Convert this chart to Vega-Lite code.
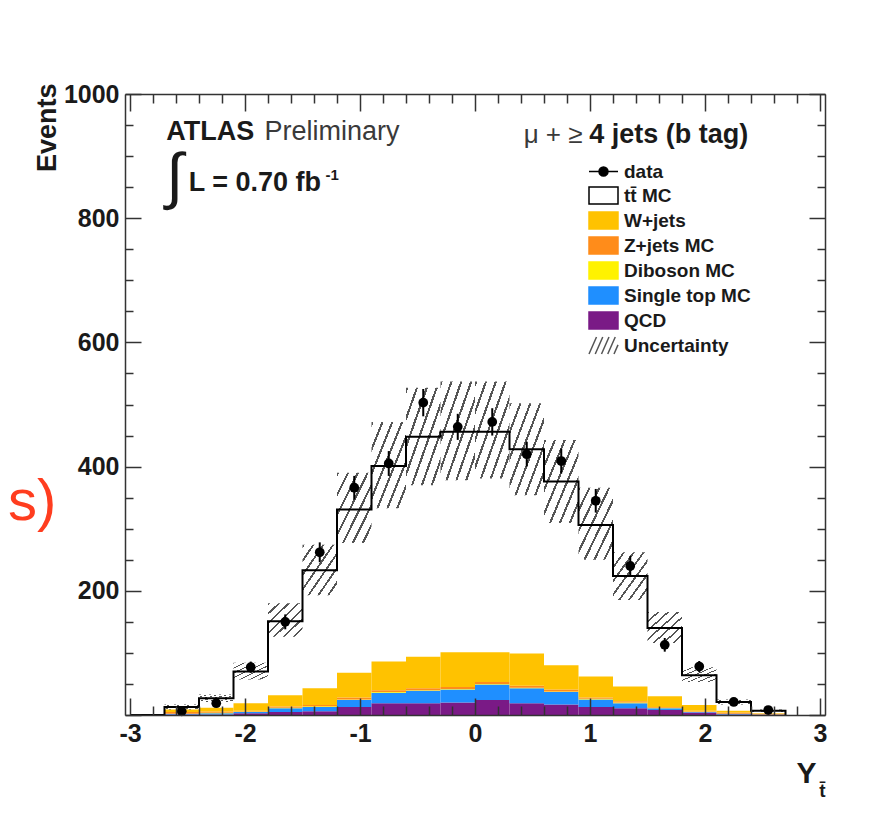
{
  "$schema": "https://vega.github.io/schema/vega-lite/v6.json",
  "width": 700,
  "height": 621,
  "autosize": {"type": "none"},
  "padding": {"left": 125, "top": 94, "right": 50, "bottom": 98},
  "background": "white",
  "config": {"view": {"stroke": null}, "axis": {"grid": false}, "font": "Liberation Sans"},
  "datasets": {
    "mc": [
      {"lo": -3, "hi": -2.7, "c": -2.85, "total": 0, "ulo": 0, "uhi": 0, "data": null, "dlo": null, "dhi": null},
      {"lo": -2.7, "hi": -2.4, "c": -2.55, "total": 13, "ulo": 9, "uhi": 17, "data": 6, "dlo": 3.5, "dhi": 8.5},
      {"lo": -2.4, "hi": -2.1, "c": -2.25, "total": 27, "ulo": 21, "uhi": 33, "data": 19, "dlo": 14.6, "dhi": 23.4},
      {"lo": -2.1, "hi": -1.8, "c": -1.95, "total": 70, "ulo": 57, "uhi": 84, "data": 77, "dlo": 68, "dhi": 86},
      {"lo": -1.8, "hi": -1.5, "c": -1.65, "total": 151, "ulo": 126, "uhi": 180, "data": 150, "dlo": 138, "dhi": 162},
      {"lo": -1.5, "hi": -1.2, "c": -1.35, "total": 233, "ulo": 193, "uhi": 274, "data": 262, "dlo": 246, "dhi": 278},
      {"lo": -1.2, "hi": -0.9, "c": -1.05, "total": 331, "ulo": 277, "uhi": 390, "data": 366, "dlo": 347, "dhi": 385},
      {"lo": -0.9, "hi": -0.6, "c": -0.75, "total": 401, "ulo": 333, "uhi": 472, "data": 405, "dlo": 385, "dhi": 425},
      {"lo": -0.6, "hi": -0.3, "c": -0.45, "total": 448, "ulo": 370, "uhi": 527, "data": 503, "dlo": 481, "dhi": 525},
      {"lo": -0.3, "hi": 0, "c": -0.15, "total": 456, "ulo": 378, "uhi": 537, "data": 464, "dlo": 443, "dhi": 485},
      {"lo": 0, "hi": 0.3, "c": 0.15, "total": 456, "ulo": 381, "uhi": 537, "data": 472, "dlo": 450, "dhi": 494},
      {"lo": 0.3, "hi": 0.6, "c": 0.45, "total": 428, "ulo": 354, "uhi": 502, "data": 420, "dlo": 400, "dhi": 440},
      {"lo": 0.6, "hi": 0.9, "c": 0.75, "total": 376, "ulo": 309, "uhi": 443, "data": 409, "dlo": 389, "dhi": 429},
      {"lo": 0.9, "hi": 1.2, "c": 1.05, "total": 306, "ulo": 250, "uhi": 366, "data": 345, "dlo": 326, "dhi": 364},
      {"lo": 1.2, "hi": 1.5, "c": 1.35, "total": 224, "ulo": 185, "uhi": 262, "data": 240, "dlo": 224, "dhi": 256},
      {"lo": 1.5, "hi": 1.8, "c": 1.65, "total": 140, "ulo": 116, "uhi": 166, "data": 113, "dlo": 102, "dhi": 124},
      {"lo": 1.8, "hi": 2.1, "c": 1.95, "total": 64, "ulo": 53, "uhi": 77, "data": 78, "dlo": 69, "dhi": 87},
      {"lo": 2.1, "hi": 2.4, "c": 2.25, "total": 21, "ulo": 17, "uhi": 25, "data": 21, "dlo": 16.4, "dhi": 25.6},
      {"lo": 2.4, "hi": 2.7, "c": 2.55, "total": 7, "ulo": 5, "uhi": 9, "data": 8, "dlo": 5.2, "dhi": 10.8},
      {"lo": 2.7, "hi": 3, "c": 2.85, "total": 0, "ulo": 0, "uhi": 0, "data": null, "dlo": null, "dhi": null}
    ],
    "bkg": [
      {"lo": -2.7, "hi": -2.4, "process": "QCD", "k": 1, "n": 1},
      {"lo": -2.7, "hi": -2.4, "process": "Single top MC", "k": 2, "n": 1},
      {"lo": -2.7, "hi": -2.4, "process": "Diboson MC", "k": 3, "n": 0},
      {"lo": -2.7, "hi": -2.4, "process": "Z+jets MC", "k": 4, "n": 3},
      {"lo": -2.7, "hi": -2.4, "process": "W+jets", "k": 5, "n": 4},
      {"lo": -2.4, "hi": -2.1, "process": "QCD", "k": 1, "n": 1},
      {"lo": -2.4, "hi": -2.1, "process": "Single top MC", "k": 2, "n": 2},
      {"lo": -2.4, "hi": -2.1, "process": "Diboson MC", "k": 3, "n": 0.5},
      {"lo": -2.4, "hi": -2.1, "process": "Z+jets MC", "k": 4, "n": 2},
      {"lo": -2.4, "hi": -2.1, "process": "W+jets", "k": 5, "n": 6},
      {"lo": -2.1, "hi": -1.8, "process": "QCD", "k": 1, "n": 3},
      {"lo": -2.1, "hi": -1.8, "process": "Single top MC", "k": 2, "n": 2},
      {"lo": -2.1, "hi": -1.8, "process": "Diboson MC", "k": 3, "n": 0.5},
      {"lo": -2.1, "hi": -1.8, "process": "Z+jets MC", "k": 4, "n": 1.5},
      {"lo": -2.1, "hi": -1.8, "process": "W+jets", "k": 5, "n": 12},
      {"lo": -1.8, "hi": -1.5, "process": "QCD", "k": 1, "n": 5},
      {"lo": -1.8, "hi": -1.5, "process": "Single top MC", "k": 2, "n": 6},
      {"lo": -1.8, "hi": -1.5, "process": "Diboson MC", "k": 3, "n": 0.5},
      {"lo": -1.8, "hi": -1.5, "process": "Z+jets MC", "k": 4, "n": 2},
      {"lo": -1.8, "hi": -1.5, "process": "W+jets", "k": 5, "n": 18.5},
      {"lo": -1.5, "hi": -1.2, "process": "QCD", "k": 1, "n": 6},
      {"lo": -1.5, "hi": -1.2, "process": "Single top MC", "k": 2, "n": 7},
      {"lo": -1.5, "hi": -1.2, "process": "Diboson MC", "k": 3, "n": 1},
      {"lo": -1.5, "hi": -1.2, "process": "Z+jets MC", "k": 4, "n": 2},
      {"lo": -1.5, "hi": -1.2, "process": "W+jets", "k": 5, "n": 27},
      {"lo": -1.2, "hi": -0.9, "process": "QCD", "k": 1, "n": 13},
      {"lo": -1.2, "hi": -0.9, "process": "Single top MC", "k": 2, "n": 11},
      {"lo": -1.2, "hi": -0.9, "process": "Diboson MC", "k": 3, "n": 1},
      {"lo": -1.2, "hi": -0.9, "process": "Z+jets MC", "k": 4, "n": 3},
      {"lo": -1.2, "hi": -0.9, "process": "W+jets", "k": 5, "n": 40},
      {"lo": -0.9, "hi": -0.6, "process": "QCD", "k": 1, "n": 19},
      {"lo": -0.9, "hi": -0.6, "process": "Single top MC", "k": 2, "n": 17},
      {"lo": -0.9, "hi": -0.6, "process": "Diboson MC", "k": 3, "n": 1},
      {"lo": -0.9, "hi": -0.6, "process": "Z+jets MC", "k": 4, "n": 3},
      {"lo": -0.9, "hi": -0.6, "process": "W+jets", "k": 5, "n": 46},
      {"lo": -0.6, "hi": -0.3, "process": "QCD", "k": 1, "n": 19},
      {"lo": -0.6, "hi": -0.3, "process": "Single top MC", "k": 2, "n": 20},
      {"lo": -0.6, "hi": -0.3, "process": "Diboson MC", "k": 3, "n": 1},
      {"lo": -0.6, "hi": -0.3, "process": "Z+jets MC", "k": 4, "n": 3},
      {"lo": -0.6, "hi": -0.3, "process": "W+jets", "k": 5, "n": 51},
      {"lo": -0.3, "hi": 0, "process": "QCD", "k": 1, "n": 20},
      {"lo": -0.3, "hi": 0, "process": "Single top MC", "k": 2, "n": 21},
      {"lo": -0.3, "hi": 0, "process": "Diboson MC", "k": 3, "n": 1},
      {"lo": -0.3, "hi": 0, "process": "Z+jets MC", "k": 4, "n": 3},
      {"lo": -0.3, "hi": 0, "process": "W+jets", "k": 5, "n": 56},
      {"lo": 0, "hi": 0.3, "process": "QCD", "k": 1, "n": 24},
      {"lo": 0, "hi": 0.3, "process": "Single top MC", "k": 2, "n": 25},
      {"lo": 0, "hi": 0.3, "process": "Diboson MC", "k": 3, "n": 1},
      {"lo": 0, "hi": 0.3, "process": "Z+jets MC", "k": 4, "n": 3},
      {"lo": 0, "hi": 0.3, "process": "W+jets", "k": 5, "n": 48},
      {"lo": 0.3, "hi": 0.6, "process": "QCD", "k": 1, "n": 19},
      {"lo": 0.3, "hi": 0.6, "process": "Single top MC", "k": 2, "n": 24},
      {"lo": 0.3, "hi": 0.6, "process": "Diboson MC", "k": 3, "n": 1},
      {"lo": 0.3, "hi": 0.6, "process": "Z+jets MC", "k": 4, "n": 3},
      {"lo": 0.3, "hi": 0.6, "process": "W+jets", "k": 5, "n": 52},
      {"lo": 0.6, "hi": 0.9, "process": "QCD", "k": 1, "n": 17},
      {"lo": 0.6, "hi": 0.9, "process": "Single top MC", "k": 2, "n": 20},
      {"lo": 0.6, "hi": 0.9, "process": "Diboson MC", "k": 3, "n": 1},
      {"lo": 0.6, "hi": 0.9, "process": "Z+jets MC", "k": 4, "n": 3},
      {"lo": 0.6, "hi": 0.9, "process": "W+jets", "k": 5, "n": 39},
      {"lo": 0.9, "hi": 1.2, "process": "QCD", "k": 1, "n": 13},
      {"lo": 0.9, "hi": 1.2, "process": "Single top MC", "k": 2, "n": 12},
      {"lo": 0.9, "hi": 1.2, "process": "Diboson MC", "k": 3, "n": 1},
      {"lo": 0.9, "hi": 1.2, "process": "Z+jets MC", "k": 4, "n": 2},
      {"lo": 0.9, "hi": 1.2, "process": "W+jets", "k": 5, "n": 34},
      {"lo": 1.2, "hi": 1.5, "process": "QCD", "k": 1, "n": 11},
      {"lo": 1.2, "hi": 1.5, "process": "Single top MC", "k": 2, "n": 8},
      {"lo": 1.2, "hi": 1.5, "process": "Diboson MC", "k": 3, "n": 1},
      {"lo": 1.2, "hi": 1.5, "process": "Z+jets MC", "k": 4, "n": 2},
      {"lo": 1.2, "hi": 1.5, "process": "W+jets", "k": 5, "n": 24},
      {"lo": 1.5, "hi": 1.8, "process": "QCD", "k": 1, "n": 8},
      {"lo": 1.5, "hi": 1.8, "process": "Single top MC", "k": 2, "n": 3},
      {"lo": 1.5, "hi": 1.8, "process": "Diboson MC", "k": 3, "n": 0.5},
      {"lo": 1.5, "hi": 1.8, "process": "Z+jets MC", "k": 4, "n": 1.5},
      {"lo": 1.5, "hi": 1.8, "process": "W+jets", "k": 5, "n": 17},
      {"lo": 1.8, "hi": 2.1, "process": "QCD", "k": 1, "n": 4},
      {"lo": 1.8, "hi": 2.1, "process": "Single top MC", "k": 2, "n": 1},
      {"lo": 1.8, "hi": 2.1, "process": "Diboson MC", "k": 3, "n": 0.5},
      {"lo": 1.8, "hi": 2.1, "process": "Z+jets MC", "k": 4, "n": 1.5},
      {"lo": 1.8, "hi": 2.1, "process": "W+jets", "k": 5, "n": 9},
      {"lo": 2.1, "hi": 2.4, "process": "QCD", "k": 1, "n": 1},
      {"lo": 2.1, "hi": 2.4, "process": "Single top MC", "k": 2, "n": 1},
      {"lo": 2.1, "hi": 2.4, "process": "Diboson MC", "k": 3, "n": 0},
      {"lo": 2.1, "hi": 2.4, "process": "Z+jets MC", "k": 4, "n": 2},
      {"lo": 2.1, "hi": 2.4, "process": "W+jets", "k": 5, "n": 3},
      {"lo": 2.4, "hi": 2.7, "process": "QCD", "k": 1, "n": 0.5},
      {"lo": 2.4, "hi": 2.7, "process": "Single top MC", "k": 2, "n": 0.5},
      {"lo": 2.4, "hi": 2.7, "process": "Diboson MC", "k": 3, "n": 0},
      {"lo": 2.4, "hi": 2.7, "process": "Z+jets MC", "k": 4, "n": 1},
      {"lo": 2.4, "hi": 2.7, "process": "W+jets", "k": 5, "n": 1}
    ]
  },
  "resolve": {"axis": {"x": "independent", "y": "independent"}},
  "layer": [
    {
      "data": {"name": "bkg"},
      "mark": {"type": "bar", "orient": "vertical", "strokeWidth": 0},
      "encoding": {
        "x": {"field": "lo", "type": "quantitative", "scale": {"domain": [-3, 3], "nice": false, "zero": false},
          "axis": {"orient": "bottom", "values": [-3, -2.8, -2.6, -2.4, -2.2, -2, -1.8, -1.6, -1.4, -1.2, -1, -0.8, -0.6, -0.4, -0.2, 0, 0.2, 0.4, 0.6, 0.8, 1, 1.2, 1.4, 1.6, 1.8, 2, 2.2, 2.4, 2.6, 2.8, 3],
            "labelExpr": "abs(datum.value - round(datum.value)) < 0.001 ? '' + round(datum.value) : ''",
            "tickSize": {"condition": {"test": "abs(datum.value - round(datum.value)) < 0.001", "value": -17}, "value": -9},
            "labelPadding": 23, "labelFont": "Liberation Sans", "labelFontWeight": "bold", "labelFontSize": 25, "labelColor": "#1a1a1a",
            "labelOverlap": false, "labelBound": false, "labelFlush": false,
            "domainColor": "#333333", "domainWidth": 1.5, "tickColor": "#333333", "tickWidth": 1.5,
            "title": "Y", "titleFont": "Liberation Sans", "titleFontWeight": "bold", "titleFontSize": 30, "titleColor": "#1a1a1a",
            "titleX": 691, "titleY": 67, "titleAlign": "right", "titleBaseline": "alphabetic", "zindex": 1}},
        "x2": {"field": "hi"},
        "y": {"field": "n", "type": "quantitative", "stack": "zero", "scale": {"domain": [0, 1000], "nice": false, "zero": false},
          "axis": {"orient": "left", "values": [0, 50, 100, 150, 200, 250, 300, 350, 400, 450, 500, 550, 600, 650, 700, 750, 800, 850, 900, 950, 1000],
            "labelExpr": "datum.value % 200 == 0 && datum.value > 0 ? '' + datum.value : ''",
            "tickSize": {"condition": {"test": "datum.value % 200 == 0", "value": -16}, "value": -8},
            "labelPadding": 22, "labelFont": "Liberation Sans", "labelFontWeight": "bold", "labelFontSize": 25, "labelColor": "#1a1a1a",
            "labelOverlap": false, "labelBound": false, "labelFlush": false,
            "domainColor": "#333333", "domainWidth": 1.5, "tickColor": "#333333", "tickWidth": 1.5,
            "title": "Events", "titleFont": "Liberation Sans", "titleFontWeight": "bold", "titleFontSize": 27, "titleColor": "#1a1a1a",
            "titleAngle": 270, "titleX": -70, "titleY": -11, "titleAlign": "right", "titleBaseline": "alphabetic", "zindex": 1}},
        "fill": {"field": "process", "type": "nominal",
          "scale": {"domain": ["data", "tt\u0304 MC", "W+jets", "Z+jets MC", "Diboson MC", "Single top MC", "QCD", "Uncertainty"],
            "range": ["black", "white", "#ffc200", "#ff8c1a", "#fff200", "#1f8fff", "#7a1a86", "transparent"]},
          "legend": {"orient": "none", "legendX": 465, "legendY": 64, "title": null, "padding": 0, "rowPadding": 0, "symbolSize": 625, "symbolStrokeWidth": 1.5,
            "labelFont": "Liberation Sans", "labelFontWeight": "bold", "labelFontSize": 19, "labelColor": "#1a1a1a", "labelOffset": 7, "labelLimit": 300, "zindex": 2}},
        "order": {"field": "k", "type": "quantitative"}
      }
    },
    {
      "data": {"name": "mc"},
      "transform": [{"filter": "datum.uhi > 0"}],
      "mark": {"type": "bar", "strokeWidth": 0,
        "fill": {"gradient": "linear", "x1": 0, "y1": 0, "x2": 1, "y2": 1, "stops": [
          {"offset": 0, "color": "#555555"}, {"offset": 0.032, "color": "#555555"}, {"offset": 0.032, "color": "rgba(255,255,255,0)"}, {"offset": 0.143, "color": "rgba(255,255,255,0)"},
          {"offset": 0.143, "color": "#555555"}, {"offset": 0.175, "color": "#555555"}, {"offset": 0.175, "color": "rgba(255,255,255,0)"}, {"offset": 0.286, "color": "rgba(255,255,255,0)"},
          {"offset": 0.286, "color": "#555555"}, {"offset": 0.318, "color": "#555555"}, {"offset": 0.318, "color": "rgba(255,255,255,0)"}, {"offset": 0.429, "color": "rgba(255,255,255,0)"},
          {"offset": 0.429, "color": "#555555"}, {"offset": 0.461, "color": "#555555"}, {"offset": 0.461, "color": "rgba(255,255,255,0)"}, {"offset": 0.571, "color": "rgba(255,255,255,0)"},
          {"offset": 0.571, "color": "#555555"}, {"offset": 0.603, "color": "#555555"}, {"offset": 0.603, "color": "rgba(255,255,255,0)"}, {"offset": 0.714, "color": "rgba(255,255,255,0)"},
          {"offset": 0.714, "color": "#555555"}, {"offset": 0.746, "color": "#555555"}, {"offset": 0.746, "color": "rgba(255,255,255,0)"}, {"offset": 0.857, "color": "rgba(255,255,255,0)"},
          {"offset": 0.857, "color": "#555555"}, {"offset": 0.889, "color": "#555555"}, {"offset": 0.889, "color": "rgba(255,255,255,0)"}, {"offset": 1, "color": "rgba(255,255,255,0)"}
        ]}},
      "encoding": {
        "x": {"field": "lo", "type": "quantitative", "scale": {"domain": [-3, 3], "nice": false, "zero": false},
          "axis": {"orient": "top", "values": [-3, -2.8, -2.6, -2.4, -2.2, -2, -1.8, -1.6, -1.4, -1.2, -1, -0.8, -0.6, -0.4, -0.2, 0, 0.2, 0.4, 0.6, 0.8, 1, 1.2, 1.4, 1.6, 1.8, 2, 2.2, 2.4, 2.6, 2.8, 3],
            "labels": false, "title": null,
            "tickSize": {"condition": {"test": "abs(datum.value - round(datum.value)) < 0.001", "value": -17}, "value": -9},
            "domainColor": "#333333", "domainWidth": 1.5, "tickColor": "#333333", "tickWidth": 1.5, "zindex": 1}},
        "x2": {"field": "hi"},
        "y": {"field": "ulo", "type": "quantitative", "scale": {"domain": [0, 1000], "nice": false, "zero": false},
          "axis": {"orient": "right", "values": [0, 50, 100, 150, 200, 250, 300, 350, 400, 450, 500, 550, 600, 650, 700, 750, 800, 850, 900, 950, 1000],
            "labels": false, "title": null,
            "tickSize": {"condition": {"test": "datum.value % 200 == 0", "value": -16}, "value": -8},
            "domainColor": "#333333", "domainWidth": 1.5, "tickColor": "#333333", "tickWidth": 1.5, "zindex": 1}},
        "y2": {"field": "uhi"}
      }
    },
    {
      "data": {"name": "mc"},
      "mark": {"type": "line", "interpolate": "step-after", "color": "black", "strokeWidth": 2},
      "encoding": {
        "x": {"field": "lo", "type": "quantitative", "scale": {"domain": [-3, 3], "nice": false, "zero": false}, "axis": null},
        "y": {"field": "total", "type": "quantitative", "scale": {"domain": [0, 1000], "nice": false, "zero": false}, "axis": null}
      }
    },
    {
      "data": {"name": "mc"},
      "transform": [{"filter": "datum.data != null"}],
      "mark": {"type": "rule", "color": "black", "strokeWidth": 2},
      "encoding": {
        "x": {"field": "c", "type": "quantitative", "scale": {"domain": [-3, 3], "nice": false, "zero": false}, "axis": null},
        "y": {"field": "dlo", "type": "quantitative", "scale": {"domain": [0, 1000], "nice": false, "zero": false}, "axis": null},
        "y2": {"field": "dhi"}
      }
    },
    {
      "data": {"name": "mc"},
      "transform": [{"filter": "datum.data != null"}],
      "mark": {"type": "point", "shape": "circle", "filled": true, "color": "black", "size": 95, "opacity": 1},
      "encoding": {
        "x": {"field": "c", "type": "quantitative", "scale": {"domain": [-3, 3], "nice": false, "zero": false}, "axis": null},
        "y": {"field": "data", "type": "quantitative", "scale": {"domain": [0, 1000], "nice": false, "zero": false}, "axis": null}
      }
    },
    {
      "data": {"name": "bkg"},
      "transform": [{"filter": "false"}],
      "mark": {"type": "point", "filled": true, "opacity": 1},
      "encoding": {
        "fill": {"field": "process", "type": "nominal",
          "scale": {"domain": ["data", "tt\u0304 MC", "W+jets", "Z+jets MC", "Diboson MC", "Single top MC", "QCD", "Uncertainty"],
            "range": ["black", "white", "#ffc200", "#ff8c1a", "#fff200", "#1f8fff", "#7a1a86", "transparent"]},
          "legend": {"orient": "none", "legendX": 465, "legendY": 64, "title": null, "padding": 0, "rowPadding": 0, "symbolSize": 625, "symbolStrokeWidth": 1.5,
            "labelFont": "Liberation Sans", "labelFontWeight": "bold", "labelFontSize": 19, "labelColor": "#1a1a1a", "labelOffset": 7, "labelLimit": 300, "zindex": 2}},
        "stroke": {"field": "process", "type": "nominal",
          "scale": {"domain": ["data", "tt\u0304 MC", "W+jets", "Z+jets MC", "Diboson MC", "Single top MC", "QCD", "Uncertainty"],
            "range": ["black", "black", "#ffc200", "#ff8c1a", "#fff200", "#1f8fff", "#7a1a86", "#555555"]},
          "legend": {"orient": "none", "legendX": 465, "legendY": 64, "title": null, "padding": 0, "rowPadding": 0, "symbolSize": 625, "symbolStrokeWidth": 1.5,
            "labelFont": "Liberation Sans", "labelFontWeight": "bold", "labelFontSize": 19, "labelColor": "#1a1a1a", "labelOffset": 7, "labelLimit": 300, "zindex": 2}},
        "shape": {"field": "process", "type": "nominal",
          "scale": {"domain": ["data", "tt\u0304 MC", "W+jets", "Z+jets MC", "Diboson MC", "Single top MC", "QCD", "Uncertainty"],
            "range": [
              "M-1.16,0H1.16M0.36,0A0.36,0.36,0,1,1,-0.36,0A0.36,0.36,0,1,1,0.36,0Z",
              "M-1.16,-0.68H1.16V0.68H-1.16Z",
              "M-1.16,-0.68H1.16V0.68H-1.16Z",
              "M-1.16,-0.68H1.16V0.68H-1.16Z",
              "M-1.16,-0.68H1.16V0.68H-1.16Z",
              "M-1.16,-0.68H1.16V0.68H-1.16Z",
              "M-1.16,-0.68H1.16V0.68H-1.16Z",
              "M-1.16,0.68L-0.56,-0.68M-0.66,0.68L-0.06,-0.68M-0.16,0.68L0.44,-0.68M0.34,0.68L0.94,-0.68M0.84,0.68L1.16,-0.05"
            ]},
          "legend": {"orient": "none", "legendX": 465, "legendY": 64, "title": null, "padding": 0, "rowPadding": 0, "symbolSize": 625, "symbolStrokeWidth": 1.5,
            "labelFont": "Liberation Sans", "labelFontWeight": "bold", "labelFontSize": 19, "labelColor": "#1a1a1a", "labelOffset": 7, "labelLimit": 300, "zindex": 2}}
      }
    },
    {
      "data": {"values": [{}]},
      "mark": {"type": "text", "text": "ATLAS", "font": "Liberation Sans", "fontWeight": "bold", "fontSize": 27, "align": "left", "baseline": "alphabetic", "color": "#1a1a1a"},
      "encoding": {
        "x": {"datum": -2.685, "type": "quantitative", "scale": {"domain": [-3, 3], "nice": false, "zero": false}, "axis": null},
        "y": {"datum": 926, "type": "quantitative", "scale": {"domain": [0, 1000], "nice": false, "zero": false}, "axis": null}
      }
    },
    {
      "data": {"values": [{}]},
      "mark": {"type": "text", "text": "Preliminary", "font": "Liberation Sans", "fontSize": 27, "align": "left", "baseline": "alphabetic", "color": "#3a3a3a"},
      "encoding": {
        "x": {"datum": -1.83, "type": "quantitative", "scale": {"domain": [-3, 3], "nice": false, "zero": false}, "axis": null},
        "y": {"datum": 926, "type": "quantitative", "scale": {"domain": [0, 1000], "nice": false, "zero": false}, "axis": null}
      }
    },
    {
      "data": {"values": [{}]},
      "mark": {"type": "text", "text": "\u222b", "font": "Liberation Sans", "fontSize": 62, "align": "center", "baseline": "middle", "color": "#1a1a1a"},
      "encoding": {
        "x": {"datum": -2.614, "type": "quantitative", "scale": {"domain": [-3, 3], "nice": false, "zero": false}, "axis": null},
        "y": {"datum": 865, "type": "quantitative", "scale": {"domain": [0, 1000], "nice": false, "zero": false}, "axis": null}
      }
    },
    {
      "data": {"values": [{}]},
      "mark": {"type": "text", "text": "L = 0.70 fb", "font": "Liberation Sans", "fontWeight": "bold", "fontSize": 27, "align": "left", "baseline": "alphabetic", "color": "#1a1a1a"},
      "encoding": {
        "x": {"datum": -2.49, "type": "quantitative", "scale": {"domain": [-3, 3], "nice": false, "zero": false}, "axis": null},
        "y": {"datum": 843, "type": "quantitative", "scale": {"domain": [0, 1000], "nice": false, "zero": false}, "axis": null}
      }
    },
    {
      "data": {"values": [{}]},
      "mark": {"type": "text", "text": "-1", "font": "Liberation Sans", "fontWeight": "bold", "fontSize": 15, "align": "left", "baseline": "alphabetic", "color": "#1a1a1a"},
      "encoding": {
        "x": {"datum": -1.3, "type": "quantitative", "scale": {"domain": [-3, 3], "nice": false, "zero": false}, "axis": null},
        "y": {"datum": 862, "type": "quantitative", "scale": {"domain": [0, 1000], "nice": false, "zero": false}, "axis": null}
      }
    },
    {
      "data": {"values": [{}]},
      "mark": {"type": "text", "text": "\u03bc + \u2265", "font": "Liberation Sans", "fontSize": 26, "align": "right", "baseline": "alphabetic", "color": "#3a3a3a"},
      "encoding": {
        "x": {"datum": 0.935, "type": "quantitative", "scale": {"domain": [-3, 3], "nice": false, "zero": false}, "axis": null},
        "y": {"datum": 921, "type": "quantitative", "scale": {"domain": [0, 1000], "nice": false, "zero": false}, "axis": null}
      }
    },
    {
      "data": {"values": [{}]},
      "mark": {"type": "text", "text": "4 jets (b tag)", "font": "Liberation Sans", "fontWeight": "bold", "fontSize": 27, "align": "left", "baseline": "alphabetic", "color": "#1a1a1a"},
      "encoding": {
        "x": {"datum": 0.994, "type": "quantitative", "scale": {"domain": [-3, 3], "nice": false, "zero": false}, "axis": null},
        "y": {"datum": 921, "type": "quantitative", "scale": {"domain": [0, 1000], "nice": false, "zero": false}, "axis": null}
      }
    },
    {
      "data": {"values": [{}]},
      "mark": {"type": "text", "text": "t\u0304", "font": "Liberation Sans", "fontWeight": "bold", "fontSize": 19, "align": "center", "baseline": "alphabetic", "color": "#1a1a1a"},
      "encoding": {
        "x": {"datum": 3.022, "type": "quantitative", "scale": {"domain": [-3, 3], "nice": false, "zero": false}, "axis": null},
        "y": {"datum": -132, "type": "quantitative", "scale": {"domain": [0, 1000], "nice": false, "zero": false}, "axis": null}
      }
    },
    {
      "data": {"values": [{}]},
      "mark": {"type": "text", "text": "s)", "font": "Liberation Sans", "fontSize": 58, "align": "right", "baseline": "alphabetic", "color": "#ff3d1f"},
      "encoding": {
        "x": {"datum": -3.64, "type": "quantitative", "scale": {"domain": [-3, 3], "nice": false, "zero": false}, "axis": null},
        "y": {"datum": 314, "type": "quantitative", "scale": {"domain": [0, 1000], "nice": false, "zero": false}, "axis": null}
      }
    }
  ]
}
